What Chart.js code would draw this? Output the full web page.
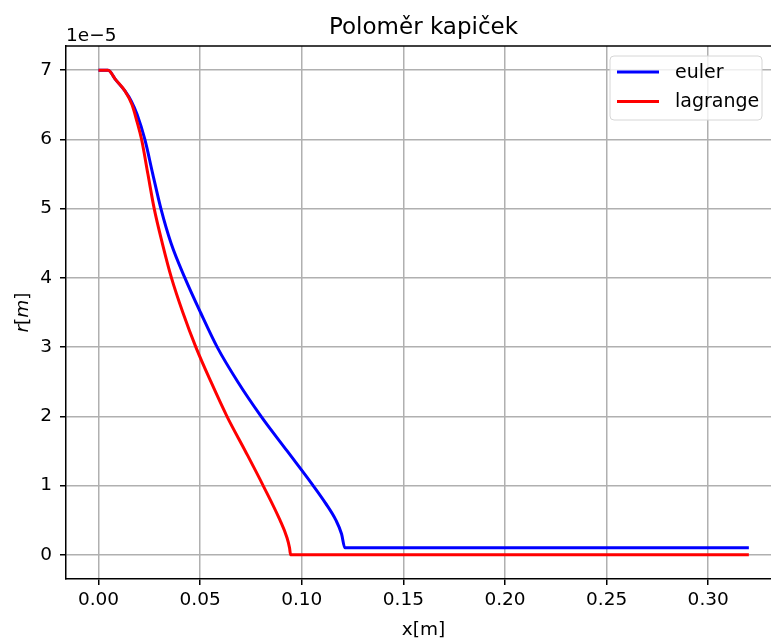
<!DOCTYPE html>
<html>
<head>
<meta charset="utf-8">
<script src="https://cdn.jsdelivr.net/npm/chart.js@4/dist/chart.umd.min.js"></script>
<style>
  html, body { margin: 0; padding: 0; background: #fff; }
  #wrap { width: 771px; height: 641px; }
</style>
</head>
<body>
<div id="wrap"><canvas id="chart" width="771" height="641"></canvas></div>
<script>
// values in units of 1e-5 m
var eulerX = [0, 0.0047, 0.0085, 0.013, 0.0162, 0.019, 0.0228, 0.0267, 0.0307, 0.0357, 0.0425, 0.0502, 0.0584, 0.0685, 0.08, 0.0928, 0.1056, 0.1116, 0.1168, 0.1196, 0.1212, 0.32];
var eulerR = [7, 7, 6.86, 6.7, 6.55, 6.36, 6.0, 5.5, 5.0, 4.5, 4.0, 3.5, 3.0, 2.5, 2.0, 1.5, 1.0, 0.75, 0.5, 0.3, 0.1, 0.1];

var lagrangeX = [0, 0.0047, 0.0085, 0.013, 0.0165, 0.019, 0.0212, 0.0243, 0.0274, 0.0314, 0.0359, 0.0415, 0.0479, 0.0553, 0.0632, 0.0722, 0.081, 0.0893, 0.0927, 0.094, 0.0945, 0.32];
var lagrangeR = [7, 7, 6.86, 6.7, 6.5, 6.25, 6.0, 5.5, 5.0, 4.5, 4.0, 3.5, 3.0, 2.5, 2.0, 1.5, 1.0, 0.5, 0.25, 0.1, 0, 0];

var xTicks = [0, 0.05, 0.10, 0.15, 0.20, 0.25, 0.30];
var yTicks = [0, 1, 2, 3, 4, 5, 6, 7];

var FONT = "'DejaVu Sans', sans-serif";

function toPoints(xs, ys) {
    var pts = [];
    for (var i = 0; i < xs.length; i++) {
        pts.push({x: xs[i], y: ys[i]});
    }
    return pts;
}

// title, labels, top spine and legend drawn by hand (matplotlib look)
var deco = {
    id: 'deco',
    afterDraw: function (chart) {
        var ctx = chart.ctx, a = chart.chartArea;
        var axesRight = 781; // picture is cut off before the right spine
        var cx = (a.left + axesRight) / 2;
        ctx.save();

        ctx.strokeStyle = '#000';
        ctx.lineWidth = 1.5;
        ctx.beginPath();
        ctx.moveTo(a.left, a.top);
        ctx.lineTo(a.right, a.top);
        ctx.stroke();

        ctx.fillStyle = '#000';
        ctx.textAlign = 'center';
        ctx.textBaseline = 'alphabetic';
        ctx.font = '23px ' + FONT;
        ctx.fillText('Poloměr kapiček', cx, 34);

        ctx.font = '18.5px ' + FONT;
        ctx.textAlign = 'left';
        ctx.fillText('1e\u22125', a.left, 41);

        ctx.textAlign = 'center';
        ctx.fillText('x[m]', cx, 635);

        // y label: r[m] with italic r and m
        var parts = [['r', 'italic'], ['[', 'normal'], ['m', 'italic'], [']', 'normal']];
        var total = 0, widths = [];
        parts.forEach(function (p) {
            ctx.font = p[1] + ' 18.5px ' + FONT;
            var w = ctx.measureText(p[0]).width;
            widths.push(w);
            total += w;
        });
        ctx.translate(28, (a.top + a.bottom) / 2);
        ctx.rotate(-Math.PI / 2);
        ctx.textAlign = 'left';
        var px = -total / 2;
        parts.forEach(function (p, i) {
            ctx.font = p[1] + ' 18.5px ' + FONT;
            ctx.fillText(p[0], px, 0);
            px += widths[i];
        });
        ctx.setTransform(1, 0, 0, 1, 0, 0);

        // legend
        var bx = 610, by = 56, bw = 152, bh = 64, r = 4;
        ctx.beginPath();
        ctx.moveTo(bx + r, by);
        ctx.arcTo(bx + bw, by, bx + bw, by + bh, r);
        ctx.arcTo(bx + bw, by + bh, bx, by + bh, r);
        ctx.arcTo(bx, by + bh, bx, by, r);
        ctx.arcTo(bx, by, bx + bw, by, r);
        ctx.closePath();
        ctx.fillStyle = 'rgba(255,255,255,0.8)';
        ctx.fill();
        ctx.strokeStyle = '#d6d6d6';
        ctx.lineWidth = 1;
        ctx.stroke();

        ctx.font = '19px ' + FONT;
        ctx.textAlign = 'left';
        ctx.textBaseline = 'middle';
        chart.data.datasets.forEach(function (ds, i) {
            var ly = 72 + i * 29.5;
            ctx.strokeStyle = ds.borderColor;
            ctx.lineWidth = 3;
            ctx.beginPath();
            ctx.moveTo(617, ly);
            ctx.lineTo(659, ly);
            ctx.stroke();
            ctx.fillStyle = '#000';
            ctx.fillText(ds.label, 675, ly + 1);
        });
        ctx.restore();
    }
};

var ctx = document.getElementById('chart').getContext('2d');
new Chart(ctx, {
    type: 'line',
    data: {
        datasets: [
            {
                label: 'euler',
                data: toPoints(eulerX, eulerR),
                borderColor: '#0000ff',
                borderWidth: 3,
                pointRadius: 0,
                cubicInterpolationMode: 'monotone',
                fill: false,
                order: 2
            },
            {
                label: 'lagrange',
                data: toPoints(lagrangeX, lagrangeR),
                borderColor: '#ff0000',
                borderWidth: 3,
                pointRadius: 0,
                cubicInterpolationMode: 'monotone',
                fill: false,
                order: 1
            }
        ]
    },
    options: {
        responsive: false,
        animation: false,
        devicePixelRatio: 1,
        layout: {padding: {top: 46, right: 0, left: 0, bottom: 0}},
        plugins: {
            legend: {display: false},
            tooltip: {enabled: false},
            title: {display: false}
        },
        scales: {
            x: {
                type: 'linear',
                min: -0.016,
                max: 0.3309,
                afterFit: function (s) { s.height = 62; },
                afterBuildTicks: function (s) {
                    s.ticks = xTicks.map(function (v) { return {value: v}; });
                },
                ticks: {
                    color: '#000',
                    font: {family: FONT, size: 18.5},
                    padding: 4,
                    maxRotation: 0,
                    autoSkip: false,
                    callback: function (v) { return Number(v).toFixed(2); }
                },
                grid: {
                    color: '#b0b0b0',
                    lineWidth: 1.5,
                    tickColor: '#000',
                    tickLength: 6,
                    tickWidth: 1.5
                },
                border: {color: '#000', width: 1.5}
            },
            y: {
                type: 'linear',
                min: -0.35,
                max: 7.35,
                afterFit: function (s) { s.width = 66; },
                afterBuildTicks: function (s) {
                    s.ticks = yTicks.map(function (v) { return {value: v}; });
                },
                ticks: {
                    color: '#000',
                    font: {family: FONT, size: 18.5},
                    padding: 8,
                    autoSkip: false,
                    callback: function (v) { return String(v); }
                },
                grid: {
                    color: '#b0b0b0',
                    lineWidth: 1.5,
                    tickColor: '#000',
                    tickLength: 6,
                    tickWidth: 1.5
                },
                border: {color: '#000', width: 1.5}
            }
        }
    },
    plugins: [deco]
});
</script>
</body>
</html>
